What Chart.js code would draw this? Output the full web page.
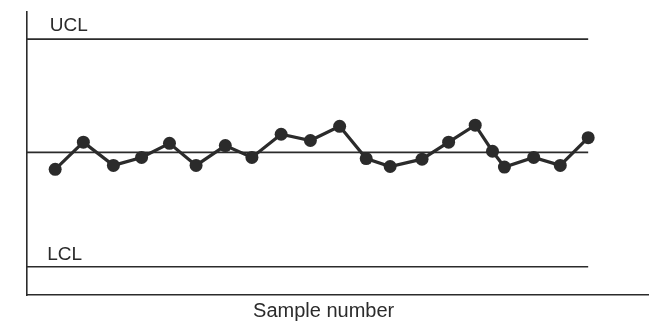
<!DOCTYPE html>
<html>
<head>
<meta charset="utf-8">
<script src="https://cdn.jsdelivr.net/npm/chart.js@4"></script>
<style>
  html, body { margin: 0; padding: 0; background: #fff; }
  #wrap { width: 664px; height: 332px; }
</style>
</head>
<body>
<div id="wrap"><canvas id="grafica" width="664" height="332"></canvas></div>
<script>
// posiciones de muestra (leidas del dibujo, no son del todo regulares)
const muestras = [1, 2.06, 3.19, 4.25, 5.3, 6.3, 7.4, 8.4, 9.5, 10.6, 11.7, 12.7, 13.6, 14.8, 15.8, 16.8, 17.45, 17.9, 19.0, 20.0, 21.05];
const valores  = [8.5, 10.9, 8.85, 9.55, 10.8, 8.85, 10.6, 9.55, 11.6, 11.05, 12.3, 9.45, 8.75, 9.4, 10.9, 12.4, 10.1, 8.7, 9.55, 8.85, 11.3];

const UCL = 20, CL = 10, LCL = -0.1;
const limites = ['UCL', 'LCL'];
const tituloX = 'Sample number';

const xMin = -0.06, xMax = 23.3, xFin = 21.05;
const yMin = -2.6, yMax = 22.4;

const tinta = '#2b2b2b';
const fuente = '"Liberation Sans", Arial, sans-serif';

// texto de UCL / LCL y titulo del eje X
const etiquetas = {
  id: 'etiquetas',
  afterDatasetsDraw(chart) {
    const ctx = chart.ctx;
    const x = chart.scales.x, y = chart.scales.y;
    ctx.save();
    ctx.fillStyle = tinta;
    ctx.font = '19px ' + fuente;
    ctx.textAlign = 'left';
    ctx.textBaseline = 'alphabetic';
    ctx.fillText(limites[0], x.getPixelForValue(0.8), y.getPixelForValue(UCL) - 8);
    ctx.fillText(limites[1], x.getPixelForValue(0.7), y.getPixelForValue(LCL) - 7);
    ctx.font = '20px ' + fuente;
    ctx.textAlign = 'center';
    ctx.fillText(tituloX, x.getPixelForValue(11.1), x.top + 22);
    ctx.restore();
  }
};

function linea(v) {
  return {
    data: [{x: xMin, y: v}, {x: xFin, y: v}],
    borderColor: tinta,
    borderWidth: 1.6,
    pointRadius: 0,
    showLine: true,
    order: 2
  };
}

new Chart(document.getElementById('grafica'), {
  type: 'scatter',
  data: {
    datasets: [
      linea(UCL), linea(CL), linea(LCL),
      {
        data: muestras.map((x, i) => ({x, y: valores[i]})),
        showLine: true,
        borderColor: tinta,
        borderWidth: 3.2,
        backgroundColor: tinta,
        pointRadius: 6.5,
        pointBorderWidth: 0,
        order: 1
      }
    ]
  },
  options: {
    responsive: false,
    animation: false,
    layout: {padding: {left: 27, top: 12, right: 16, bottom: 0}},
    plugins: {legend: {display: false}, tooltip: {enabled: false}},
    scales: {
      x: {
        type: 'linear', min: xMin, max: xMax,
        grid: {display: false},
        ticks: {display: false},
        border: {color: tinta, width: 1.6},
        afterFit(s) { s.height = 37; }
      },
      y: {
        min: yMin, max: yMax,
        grid: {display: false},
        ticks: {display: false},
        border: {color: tinta, width: 1.6},
        afterFit(s) { s.width = 0; }
      }
    }
  },
  plugins: [etiquetas]
});
</script>
</body>
</html>
